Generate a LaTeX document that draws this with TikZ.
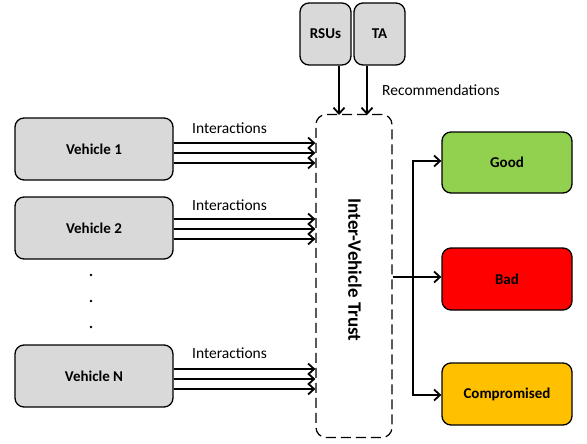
\documentclass[tikz,border=0pt]{standalone}
\usepackage{fontspec}
\setmainfont{Carlito}
\usetikzlibrary{arrows.meta}
\begin{document}
\begin{tikzpicture}[x=1pt,y=-1pt,
  box/.style={draw=black, line width=1.3pt, rounded corners=9pt, fill=boxgray, font=\bfseries\fontsize{15}{18}\selectfont},
  flow/.style={line width=2pt, -{Straight Barb[length=6pt,width=11pt,line width=1.8pt]}},
  lbl/.style={font=\fontsize{15.5}{18}\selectfont, anchor=west, inner sep=0pt}]
\definecolor{boxgray}{HTML}{D9D9D9}
\definecolor{goodgreen}{HTML}{92D050}
\definecolor{badred}{HTML}{FF0000}
\definecolor{compyellow}{HTML}{FFC000}
\useasboundingbox (0,0) rectangle (587,444);

% vehicles
\node[box, minimum width=158pt, minimum height=62pt] (v1) at (94,149) {Vehicle 1};
\node[box, minimum width=158pt, minimum height=62pt] (v2) at (94,228) {Vehicle 2};
\node[box, minimum width=158pt, minimum height=62pt] (vn) at (94,376) {Vehicle N};

% ellipsis dots
\fill (91,275) circle (1.4pt) (91,301) circle (1.4pt) (91,327) circle (1.4pt);

% trust evaluation frame
\node[draw, dash pattern=on 10pt off 5pt, line width=1.2pt, rounded corners=10pt,
      minimum width=76pt, minimum height=323pt] (ivt) at (354,276) {};
\node[rotate=-90, font=\bfseries\fontsize{19}{22}\selectfont] (ivtl) at (355,270) {Inter-Vehicle Trust};

% external sources
\node[box, minimum width=51pt, minimum height=62pt] (rsu) at (325.5,34) {RSUs};
\node[box, minimum width=51pt, minimum height=62pt] (ta) at (379.5,34) {TA};
\draw[flow] (rsu.south -| 339,0) -- (339,115);
\draw[flow] (ta.south -| 367,0) -- (367,115);
\node[lbl] (rec) at (382,90) {Recommendations};

% interactions
\foreach \v/\y in {v1/153, v2/229, vn/379}{
  \foreach \d in {-10,0,10}{
    \draw[flow] (\v.east |- 0,\y+\d) -- (ivt.west |- 0,\y+\d);
  }
}
\node[lbl] (i1) at (192,128) {Interactions};
\node[lbl] (i2) at (192,205) {Interactions};
\node[lbl] (in) at (192,353) {Interactions};

% trust outcomes
\node[box, fill=goodgreen, minimum width=130pt, minimum height=61pt] (good) at (507,162.5) {Good};
\node[box, fill=badred, minimum width=130pt, minimum height=62pt] (bad) at (507,279) {Bad};
\node[box, fill=compyellow, minimum width=130pt, minimum height=62pt] (comp) at (507,394) {Compromised};

\coordinate (split) at (413,277);
\draw[flow] (ivt.east |- split) -- (bad.west |- split);
\draw[flow] (413,395) -- (413,161) -- (good.west |- 0,161);
\draw[flow] (413,300) -- (413,395) -- (comp.west |- 0,395);
\end{tikzpicture}
\end{document}
